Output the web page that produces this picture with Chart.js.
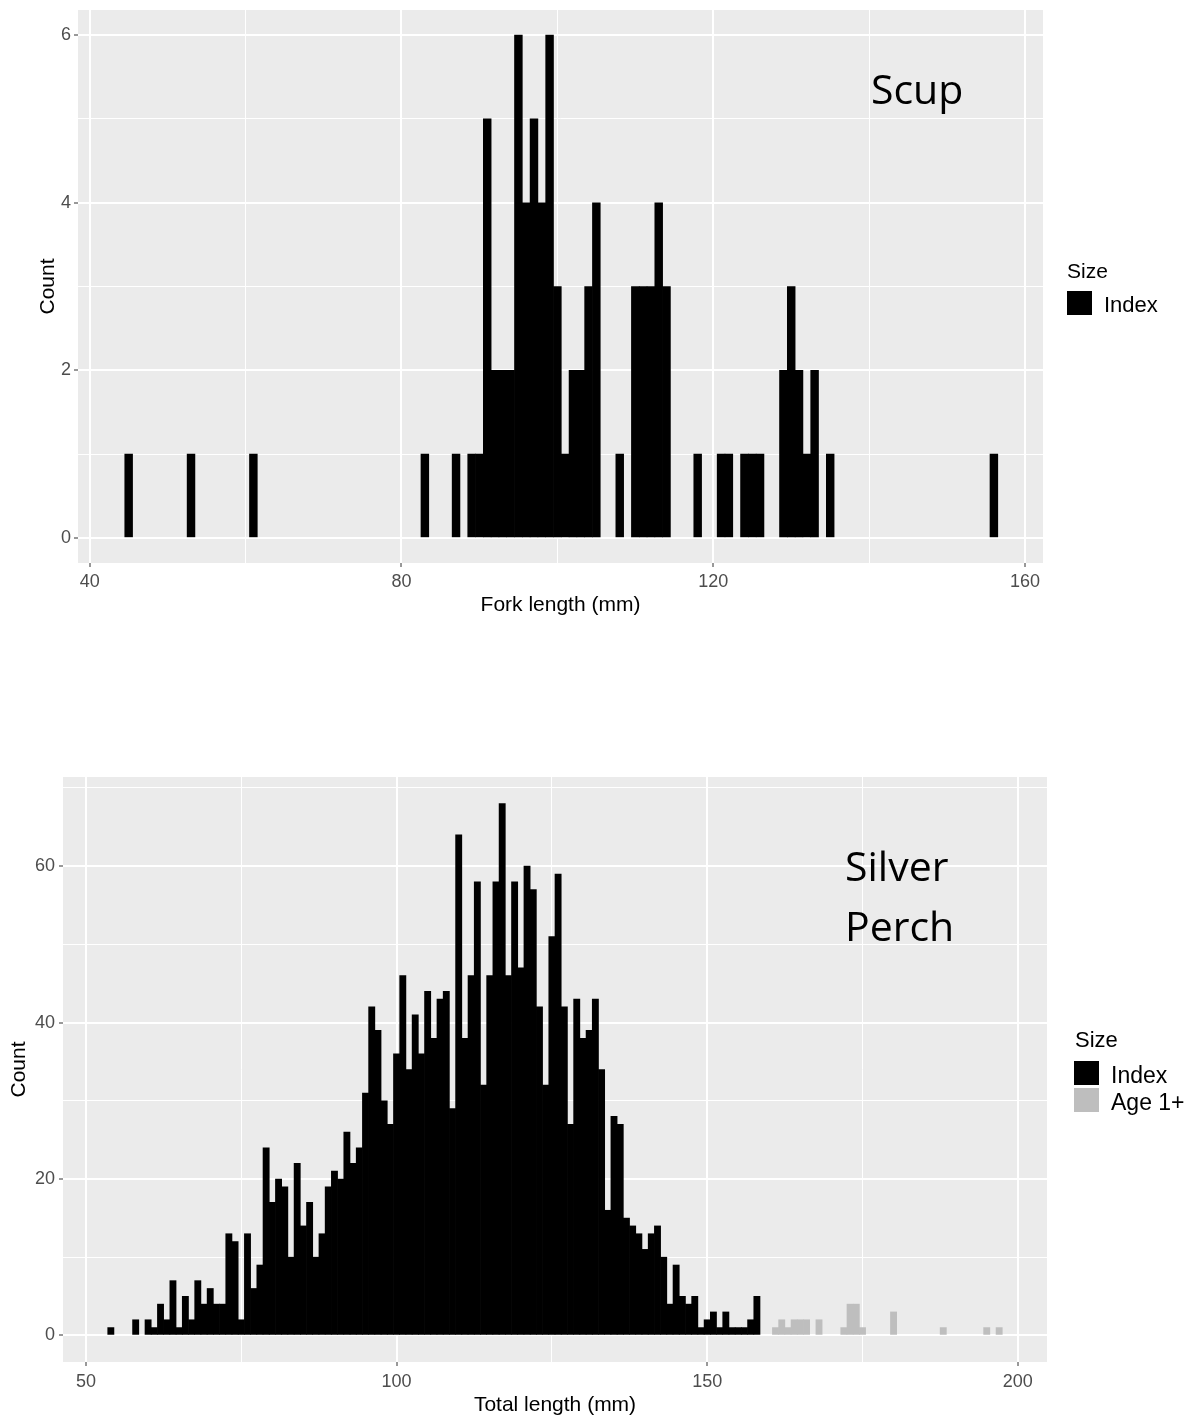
<!DOCTYPE html>
<html>
<head>
<meta charset="utf-8">
<title>Scup and Silver Perch length frequencies</title>
<script src="https://cdn.jsdelivr.net/npm/chart.js@4.4.0/dist/chart.umd.min.js"></script>
<style>
  html, body { margin: 0; padding: 0; background: #fff; }
  body { position: relative; width: 1193px; height: 1420px; overflow: hidden;
         font-family: 'Liberation Sans', Arial, sans-serif; }
  canvas { position: absolute; left: 0; }
  #scupChart { top: 0; }
  #perchChart { top: 700px; }
  .txt { position: absolute; white-space: nowrap; color: #000; }
  .note { font-family: 'Open Sans', sans-serif; font-size: 41px; line-height: 60px; }
  .key { position: absolute; width: 25px; height: 24px; }
</style>
</head>
<body>
<canvas id="scupChart" width="1193" height="640"></canvas>
<canvas id="perchChart" width="1193" height="720"></canvas>

<!-- species labels -->
<div class="txt note" style="left:871px;top:58px">Scup</div>
<div class="txt note" style="left:845px;top:835px">Silver<br>Perch</div>

<!-- legend: Scup -->
<div class="txt" style="left:1067px;top:260px;font-size:21px;line-height:21px">Size</div>
<div class="key" style="left:1067px;top:291px;background:#000"></div>
<div class="txt" style="left:1104px;top:294px;font-size:22px;line-height:22px">Index</div>

<!-- legend: Silver Perch -->
<div class="txt" style="left:1075px;top:1029px;font-size:22px;line-height:22px">Size</div>
<div class="key" style="left:1074px;top:1061px;background:#000"></div>
<div class="key" style="left:1074px;top:1088px;background:#BEBEBE"></div>
<div class="txt" style="left:1111px;top:1064px;font-size:23px;line-height:23px">Index</div>
<div class="txt" style="left:1111px;top:1091px;font-size:23px;line-height:23px">Age 1+</div>

<script>
// ---- Scup: fork length (mm), 1 mm bins ----
const scupLength = [45, 53, 61, 83, 87, 89, 90, 91, 92, 93, 94, 95, 96, 97, 98, 99, 100,
                    101, 102, 103, 104, 105, 108, 110, 111, 112, 113, 114, 118, 121, 122,
                    124, 125, 126, 129, 130, 131, 132, 133, 135, 156];
const scupCount  = [1, 1, 1, 1, 1, 1, 1, 5, 2, 2, 2, 6, 4, 5, 4, 6, 3,
                    1, 2, 2, 3, 4, 1, 3, 3, 3, 4, 3, 1, 1, 1,
                    1, 1, 1, 2, 3, 2, 1, 2, 1, 1];

// ---- Silver Perch: total length (mm), 1 mm bins ----
const perchIndexLength = [54, 58,
  60, 61, 62, 63, 64, 65, 66, 67, 68, 69,
  70, 71, 72, 73, 74, 75, 76, 77, 78, 79,
  80, 81, 82, 83, 84, 85, 86, 87, 88, 89,
  90, 91, 92, 93, 94, 95, 96, 97, 98, 99,
  100, 101, 102, 103, 104, 105, 106, 107, 108, 109,
  110, 111, 112, 113, 114, 115, 116, 117, 118, 119,
  120, 121, 122, 123, 124, 125, 126, 127, 128, 129,
  130, 131, 132, 133, 134, 135, 136, 137, 138, 139,
  140, 141, 142, 143, 144, 145, 146, 147, 148, 149,
  150, 151, 152, 153, 154, 155, 156, 157, 158];
const perchIndexCount = [1, 2,
  2, 1, 4, 2, 7, 1, 5, 2, 7, 4,
  6, 4, 4, 13, 12, 2, 13, 6, 9, 24,
  17, 20, 19, 10, 22, 14, 17, 10, 13, 19,
  21, 20, 26, 22, 24, 31, 42, 39, 30, 27,
  36, 46, 34, 41, 36, 44, 38, 43, 44, 29,
  64, 38, 46, 58, 32, 46, 58, 68, 46, 58,
  47, 60, 57, 42, 32, 51, 59, 42, 27, 43,
  38, 39, 43, 34, 16, 28, 27, 15, 14, 13,
  11, 13, 14, 10, 4, 9, 5, 4, 5, 1,
  2, 3, 1, 3, 1, 1, 1, 2, 5];
const perchAgeLength = [161, 162, 163, 164, 165, 166, 168, 172, 173, 174, 175, 180, 188, 195, 197];
const perchAgeCount  = [1, 2, 1, 2, 2, 2, 2, 1, 4, 4, 1, 3, 1, 1, 1];

// ---- axis ticks (major ticks carry labels, minor ticks only a grid line) ----
const scupXMajor = [40, 80, 120, 160];
const scupXMinor = [60, 100, 140];
const scupYMajor = [0, 2, 4, 6];
const scupYMinor = [1, 3, 5];
const perchXMajor = [50, 100, 150, 200];
const perchXMinor = [75, 125, 175];
const perchYMajor = [0, 20, 40, 60];
const perchYMinor = [10, 30, 50, 70];

const FONT = "'Liberation Sans', Arial, sans-serif";
const PANEL = '#EBEBEB';

const panelBackground = {
  id: 'panelBackground',
  beforeDraw(chart) {
    const { ctx, chartArea: a } = chart;
    ctx.save();
    ctx.fillStyle = PANEL;
    ctx.fillRect(a.left, a.top, a.right - a.left, a.bottom - a.top);
    ctx.restore();
  }
};

const toPoints = (xs, ys) => xs.map((x, i) => ({ x, y: ys[i] }));

function makeAxis(opt) {
  const majors = new Set(opt.major);
  const all = opt.major.concat(opt.minor).sort((a, b) => a - b);
  const isMajor = c => c.tick && majors.has(c.tick.value);
  return {
    type: 'linear',
    position: opt.position,
    min: opt.min,
    max: opt.max,
    offset: false,
    border: { display: false },
    grid: {
      offset: false,
      color: '#FFFFFF',
      lineWidth: c => (isMajor(c) ? 2 : 1),
      drawTicks: true,
      tickLength: 4,
      tickWidth: 1,
      tickColor: c => (isMajor(c) ? '#333333' : 'rgba(0,0,0,0)')
    },
    afterBuildTicks: s => { s.ticks = all.map(v => ({ value: v })); },
    ticks: {
      autoSkip: false,
      maxRotation: 0,
      minRotation: 0,
      padding: opt.tickPad,
      color: '#4D4D4D',
      font: { family: FONT, size: 18, lineHeight: 1.2 },
      callback: v => (majors.has(v) ? String(v) : '')
    },
    title: {
      display: true,
      text: opt.title,
      color: '#000',
      font: { family: FONT, size: 21, lineHeight: 1 },
      padding: opt.titlePad
    },
    afterFit: s => {
      // fixed axis band; end labels sit inside the panel so no extra edge padding
      if (opt.position === 'bottom') {
        s.height = opt.size;
        s.paddingLeft = 0; s.paddingRight = 0;
      } else {
        s.width = opt.size;
        s.paddingTop = 0; s.paddingBottom = 0;
      }
    }
  };
}

function barSet(label, xs, ys, color) {
  return {
    label,
    data: toPoints(xs, ys),
    backgroundColor: color,
    borderWidth: 0,
    grouped: false,
    categoryPercentage: 1,
    barPercentage: 1
  };
}

const common = {
  responsive: false,
  maintainAspectRatio: false,
  animation: false,
  devicePixelRatio: 1,
  plugins: { legend: { display: false }, tooltip: { enabled: false } }
};

new Chart(document.getElementById('scupChart'), {
  type: 'bar',
  data: { datasets: [barSet('Index', scupLength, scupCount, '#000000')] },
  options: Object.assign({}, common, {
    layout: { padding: { left: 0, top: 10, right: 150, bottom: 0 } },
    scales: {
      x: makeAxis({ position: 'bottom', min: 38.5, max: 162.3, major: scupXMajor, minor: scupXMinor,
                    tickPad: 4, title: 'Fork length (mm)', titlePad: { top: 0, bottom: 24 }, size: 77 }),
      y: makeAxis({ position: 'left', min: -0.3, max: 6.3, major: scupYMajor, minor: scupYMinor,
                    tickPad: 3, title: 'Count', titlePad: { top: 37.5, bottom: 0 }, size: 78 })
    }
  }),
  plugins: [panelBackground]
});

new Chart(document.getElementById('perchChart'), {
  type: 'bar',
  data: {
    datasets: [
      barSet('Index', perchIndexLength, perchIndexCount, '#000000'),
      barSet('Age 1+', perchAgeLength, perchAgeCount, '#BEBEBE')
    ]
  },
  options: Object.assign({}, common, {
    layout: { padding: { left: 0, top: 77, right: 146, bottom: 0 } },
    scales: {
      x: makeAxis({ position: 'bottom', min: 46.3, max: 204.7, major: perchXMajor, minor: perchXMinor,
                    tickPad: 5, title: 'Total length (mm)', titlePad: { top: 0, bottom: 4.5 }, size: 58 }),
      y: makeAxis({ position: 'left', min: -3.4, max: 71.4, major: perchYMajor, minor: perchYMinor,
                    tickPad: 4, title: 'Count', titlePad: { top: 8.5, bottom: 0 }, size: 63 })
    }
  }),
  plugins: [panelBackground]
});
</script>
</body>
</html>
